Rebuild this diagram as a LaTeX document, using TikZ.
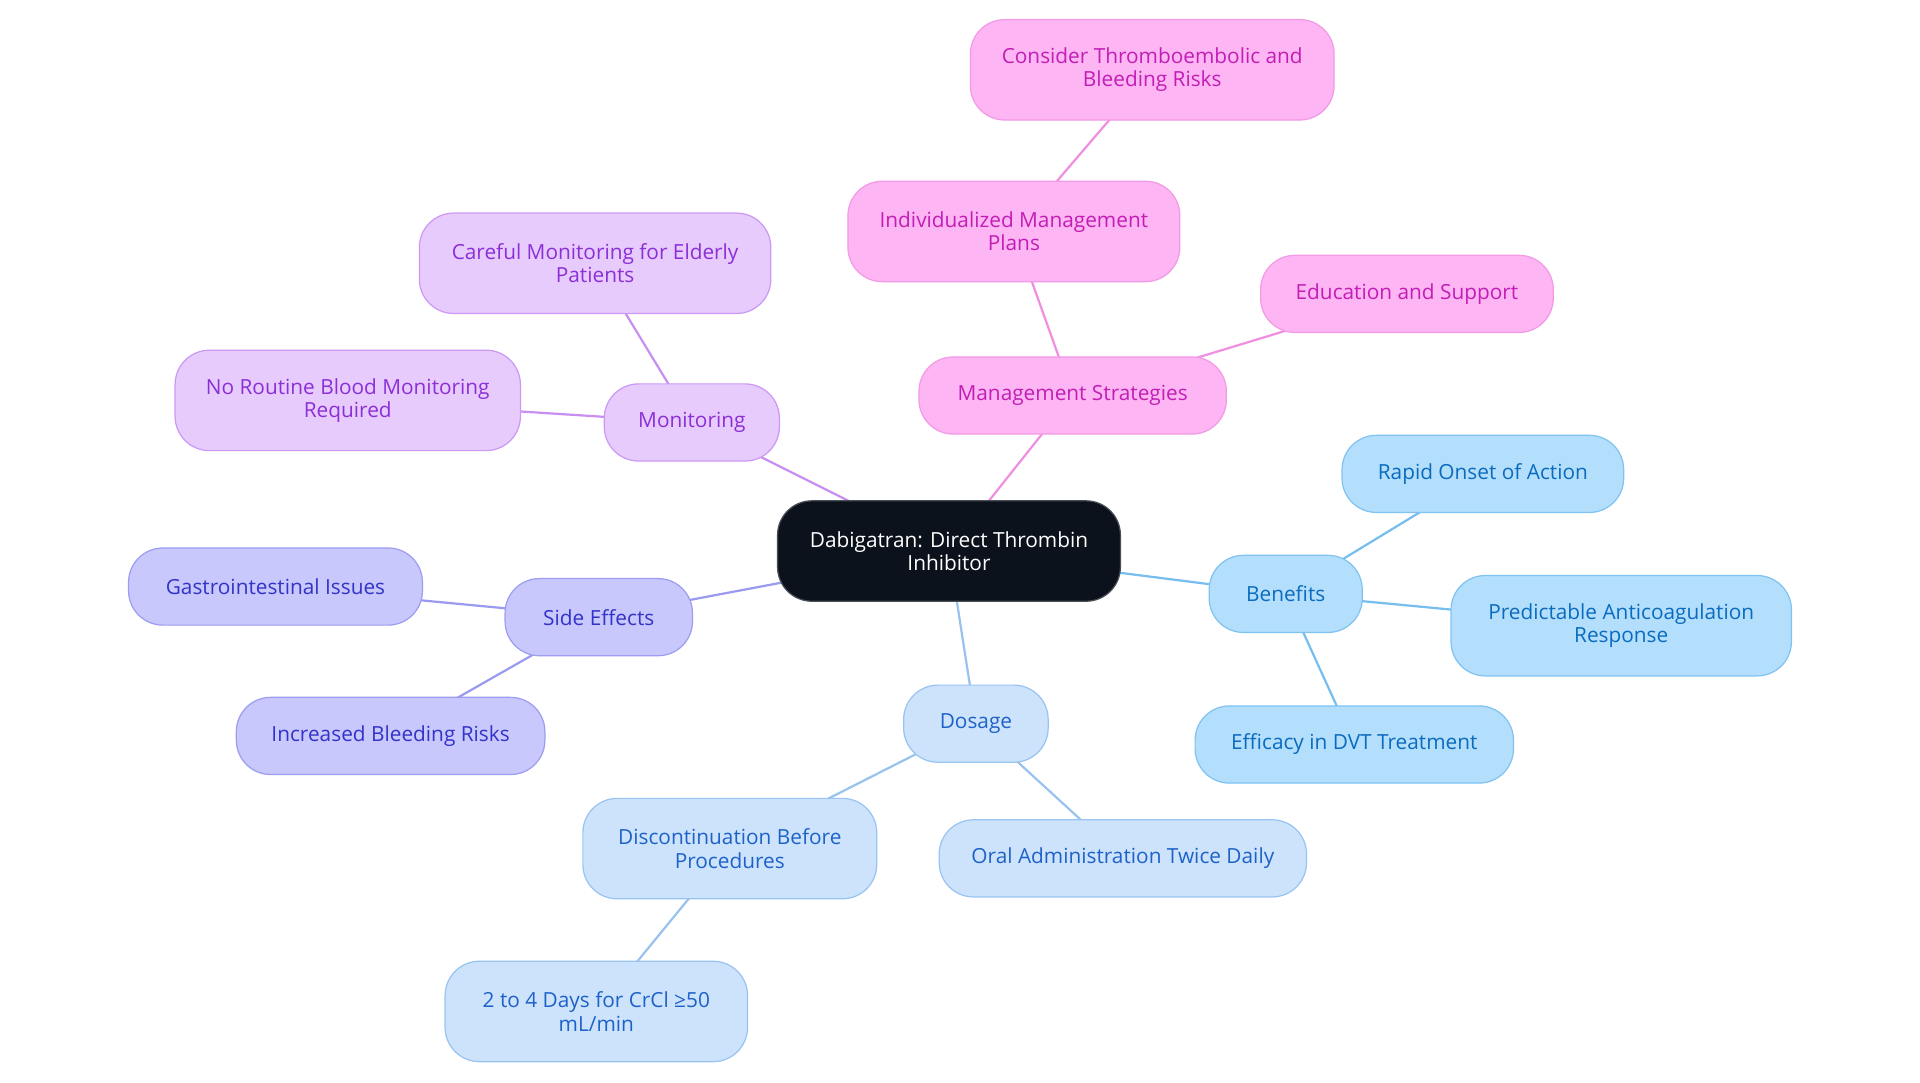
\documentclass[tikz,border=0pt]{standalone}
\usepackage{fontspec}
\setmainfont{Open Sans}
\usetikzlibrary{backgrounds}
\begin{document}
\begin{tikzpicture}[x=1pt,y=-1pt,
  box/.style={rounded corners=28pt, align=center, inner sep=0pt, line width=1pt,
    font=\fontsize{17}{19}\selectfont, minimum height=63pt},
  tall/.style={minimum height=82pt},
  core/.style={box, fill=coreF, draw=coreB, text=white},
  pinkbox/.style={box, fill=pinkF, draw=pinkB, text=pinkT},
  purpbox/.style={box, fill=purpF, draw=purpB, text=purpT},
  lavbox/.style={box, fill=lavF, draw=lavB, text=lavT},
  dosbox/.style={box, fill=dosF, draw=dosB, text=dosT},
  benbox/.style={box, fill=benF, draw=benB, text=benT},
  link/.style={line width=1.8pt}
]
\definecolor{coreF}{HTML}{0C121C}\definecolor{coreB}{HTML}{4A4F57}
\definecolor{pinkF}{HTML}{FDB5F3}\definecolor{pinkB}{HTML}{F39AE6}\definecolor{pinkT}{HTML}{C21EB5}\definecolor{pinkL}{HTML}{F08FE0}
\definecolor{purpF}{HTML}{E8CBFD}\definecolor{purpB}{HTML}{CB99F5}\definecolor{purpT}{HTML}{8B2FD6}\definecolor{purpL}{HTML}{C98FF0}
\definecolor{lavF}{HTML}{C8C8FC}\definecolor{lavB}{HTML}{9D9DF2}\definecolor{lavT}{HTML}{3333C8}\definecolor{lavL}{HTML}{9A9AF0}
\definecolor{dosF}{HTML}{CCE3FB}\definecolor{dosB}{HTML}{99C4F2}\definecolor{dosT}{HTML}{1E62C9}\definecolor{dosL}{HTML}{99C2F0}
\definecolor{benF}{HTML}{B3DFFC}\definecolor{benB}{HTML}{80C3F2}\definecolor{benT}{HTML}{0B6BBF}\definecolor{benL}{HTML}{76BDF0}
\useasboundingbox (0,0) rectangle (1568,884);

\node[core, tall, minimum width=280pt] (c) at (775,450) {Dabigatran: Direct Thrombin\\Inhibitor};

\node[pinkbox, minimum width=251pt] (ms) at (876,323) {Management Strategies};
\node[pinkbox, tall, minimum width=271pt] (imp) at (828,189) {Individualized Management\\Plans};
\node[pinkbox, tall, minimum width=297pt] (ctb) at (941,57) {Consider Thromboembolic and\\Bleeding Risks};
\node[pinkbox, minimum width=239pt] (es) at (1149,240) {Education and Support};

\node[purpbox, minimum width=143pt] (mo) at (565,345) {Monitoring};
\node[purpbox, tall, minimum width=287pt] (cm) at (486,215) {Careful Monitoring for Elderly\\Patients};
\node[purpbox, tall, minimum width=282pt] (nr) at (284,327) {No Routine Blood Monitoring\\Required};

\node[lavbox, minimum width=153pt] (se) at (489,504) {Side Effects};
\node[lavbox, minimum width=240pt] (gi) at (225,479) {Gastrointestinal Issues};
\node[lavbox, minimum width=252pt] (ib) at (319,601) {Increased Bleeding Risks};

\node[dosbox, minimum width=118pt] (do) at (797,591) {Dosage};
\node[dosbox, tall, minimum width=240pt] (dbp) at (596,693) {Discontinuation Before\\Procedures};
\node[dosbox, tall, minimum width=247pt] (d24) at (487,826) {2 to 4 Days for CrCl ≥50\\mL/min};
\node[dosbox, minimum width=300pt] (oa) at (917,701) {Oral Administration Twice Daily};

\node[benbox, minimum width=125pt] (be) at (1050,485) {Benefits};
\node[benbox, minimum width=230pt] (ro) at (1211,387) {Rapid Onset of Action};
\node[benbox, tall, minimum width=278pt] (pa) at (1324,511) {Predictable Anticoagulation\\Response};
\node[benbox, minimum width=260pt] (ed) at (1106,608) {Efficacy in DVT Treatment};

\begin{scope}[on background layer]
\fill[white] (0,0) rectangle (1568,884);
\draw[link, pinkL] (c.center) -- (ms.center);
\draw[link, pinkL] (ms.center) -- (imp.center);
\draw[link, pinkL] (imp.center) -- (ctb.center);
\draw[link, pinkL] (ms.center) -- (es.center);
\draw[link, purpL] (c.center) -- (mo.center);
\draw[link, purpL] (mo.center) -- (cm.center);
\draw[link, purpL] (mo.center) -- (nr.center);
\draw[link, lavL] (c.center) -- (se.center);
\draw[link, lavL] (se.center) -- (gi.center);
\draw[link, lavL] (se.center) -- (ib.center);
\draw[link, dosL] (c.center) -- (do.center);
\draw[link, dosL] (do.center) -- (dbp.center);
\draw[link, dosL] (dbp.center) -- (d24.center);
\draw[link, dosL] (do.center) -- (oa.center);
\draw[link, benL] (c.center) -- (be.center);
\draw[link, benL] (be.center) -- (ro.center);
\draw[link, benL] (be.center) -- (pa.center);
\draw[link, benL] (be.center) -- (ed.center);
\end{scope}
\end{tikzpicture}
\end{document}
